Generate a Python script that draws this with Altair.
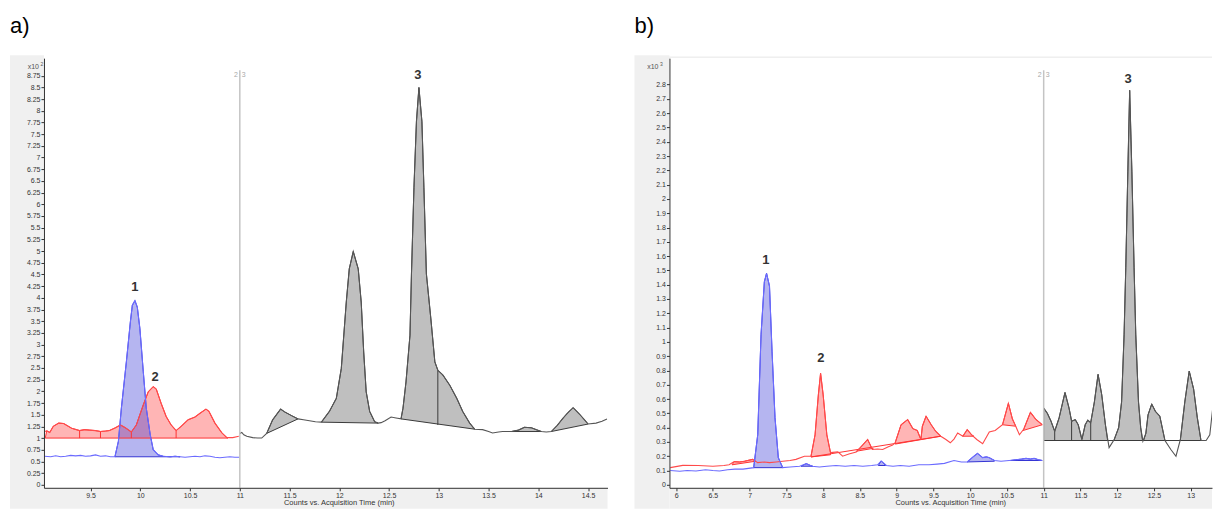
import altair as alt
import pandas as pd

H = 430
WA, WB = 564, 543
FONT = "Liberation Sans"

# ---------------- panel a (x10^2 counts) ----------------
a_blue_t = [9.04, 9.10, 9.15, 9.20, 9.25, 9.30, 9.35, 9.40, 9.45, 9.50,
            9.55, 9.60, 9.65, 9.70, 9.745, 9.78, 9.81, 9.86, 9.90, 9.92,
            9.946, 9.97, 9.996, 10.03, 10.06, 10.10, 10.13, 10.18, 10.23, 10.30,
            10.35, 10.40, 10.45, 10.50, 10.55, 10.60, 10.65, 10.70, 10.75, 10.80,
            10.85, 10.90, 10.95, 11.00]
a_blue_v = [0.61, 0.60, 0.62, 0.60, 0.61, 0.63, 0.62, 0.63, 0.61, 0.62,
            0.64, 0.61, 0.62, 0.60, 0.60, 0.93, 1.64, 2.63, 3.48, 3.84,
            3.94, 3.80, 3.34, 2.42, 1.64, 1.07, 0.75, 0.64, 0.61, 0.60,
            0.61, 0.60, 0.59, 0.60, 0.61, 0.60, 0.62, 0.61, 0.59, 0.58,
            0.59, 0.60, 0.59, 0.59]
a_red_t = [9.04, 9.06, 9.09, 9.125, 9.18, 9.23, 9.31, 9.39, 9.44, 9.49,
           9.55, 9.60, 9.65, 9.69, 9.75, 9.80, 9.85, 9.91, 9.96, 10.03,
           10.08, 10.13, 10.16, 10.21, 10.26, 10.31, 10.36, 10.41, 10.48, 10.55,
           10.60, 10.66, 10.69, 10.75, 10.82, 10.87, 10.93, 10.99]
a_red_v = [1.14, 1.155, 1.12, 1.25, 1.32, 1.31, 1.21, 1.16, 1.18, 1.17,
           1.16, 1.14, 1.15, 1.16, 1.22, 1.28, 1.22, 1.13, 1.28, 1.71,
           1.99, 2.10, 2.05, 1.74, 1.46, 1.28, 1.16, 1.25, 1.39, 1.45,
           1.53, 1.62, 1.57, 1.32, 1.11, 1.01, 1.01, 1.04]
a_gray_t = [11.00, 11.02, 11.04, 11.07, 11.13, 11.18, 11.22, 11.27, 11.33, 11.41,
            11.45, 11.52, 11.585, 11.64, 11.70, 11.76, 11.82, 11.90, 11.97, 12.02,
            12.07, 12.10, 12.14, 12.19, 12.22, 12.245, 12.27, 12.305, 12.355, 12.39,
            12.42, 12.46, 12.52, 12.57, 12.62, 12.64, 12.67, 12.71, 12.725, 12.75,
            12.775, 12.80, 12.83, 12.85, 12.875, 12.92, 12.96, 12.99, 13.04, 13.11,
            13.18, 13.24, 13.31, 13.36, 13.44, 13.50, 13.54, 13.60, 13.64, 13.73,
            13.80, 13.86, 13.93, 13.98, 14.03, 14.08, 14.13, 14.19, 14.25, 14.30,
            14.35, 14.41, 14.46, 14.50, 14.58, 14.64, 14.69]
a_gray_v = [1.10, 1.12, 1.07, 1.04, 1.01, 1.00, 1.00, 1.10, 1.39, 1.62,
            1.56, 1.48, 1.41, 1.39, 1.37, 1.35, 1.34, 1.57, 1.85, 2.49,
            3.91, 4.62, 4.99, 4.62, 3.91, 2.84, 1.99, 1.57, 1.35, 1.32,
            1.33, 1.37, 1.45, 1.43, 1.41, 1.64, 2.20, 3.20, 4.51, 6.36,
            7.77, 8.50, 7.77, 6.36, 4.51, 3.55, 2.63, 2.45, 2.35, 2.13,
            1.85, 1.57, 1.32, 1.19, 1.18, 1.14, 1.11, 1.13, 1.14, 1.14,
            1.17, 1.23, 1.22, 1.18, 1.14, 1.13, 1.14, 1.27, 1.43, 1.55,
            1.65, 1.52, 1.40, 1.30, 1.32, 1.36, 1.41]

# integrated peaks: series, start time, start baseline, end time, end baseline
a_fill_s = ["red", "blue", "gray", "gray", "gray", "gray", "gray"]
a_fill_t0 = [9.045, 9.745, 11.27, 11.82, 12.62, 13.73, 14.13]
a_fill_b0 = [1.00, 0.60, 1.10, 1.34, 1.41, 1.14, 1.14]
a_fill_t1 = [10.88, 10.40, 11.585, 12.39, 13.36, 14.03, 14.50]
a_fill_b1 = [1.00, 0.60, 1.41, 1.32, 1.19, 1.14, 1.30]

a_split_s = ["red", "red", "red", "red", "gray"]
a_split_t = [9.39, 9.60, 9.91, 10.36, 12.99]
a_split_top = [1.16, 1.14, 1.13, 1.16, 2.45]
a_split_base = [1.00, 1.00, 1.00, 1.00, 1.28]

a_lab_text = ["1", "2", "3"]
a_lab_t = [9.946, 10.15, 12.79]
a_lab_v = [4.23, 2.31, 8.77]

a_xticks = [9.5, 10, 10.5, 11, 11.5, 12, 12.5, 13, 13.5, 14, 14.5]
a_yticks = [0, 0.25, 0.5, 0.75, 1, 1.25, 1.5, 1.75, 2, 2.25, 2.5, 2.75, 3, 3.25,
            3.5, 3.75, 4, 4.25, 4.5, 4.75, 5, 5.25, 5.5, 5.75, 6, 6.25, 6.5,
            6.75, 7, 7.25, 7.5, 7.75, 8, 8.25, 8.5, 8.75]

# ---------------- panel b (x10^3 counts) ----------------
b_blue_t = [5.92, 6.05, 6.15, 6.27, 6.40, 6.50, 6.59, 6.70, 6.80, 6.91,
            7.055, 7.11, 7.155, 7.20, 7.23, 7.27, 7.305, 7.345, 7.39, 7.45,
            7.55, 7.68, 7.77, 7.85, 7.95, 8.05, 8.175, 8.30, 8.42, 8.54,
            8.66, 8.74, 8.79, 8.86, 8.95, 9.05, 9.17, 9.30, 9.44, 9.55,
            9.65, 9.78, 9.88, 9.96, 10.05, 10.10, 10.17, 10.22, 10.26, 10.33,
            10.42, 10.53, 10.62, 10.70, 10.76, 10.82, 10.87, 10.93, 10.98]
b_blue_v = [0.10, 0.095, 0.10, 0.097, 0.105, 0.10, 0.097, 0.105, 0.11, 0.11,
            0.12, 0.35, 1.05, 1.42, 1.48, 1.39, 0.93, 0.47, 0.19, 0.12,
            0.125, 0.13, 0.148, 0.13, 0.125, 0.13, 0.135, 0.13, 0.135, 0.13,
            0.135, 0.14, 0.167, 0.135, 0.13, 0.135, 0.13, 0.14, 0.14, 0.145,
            0.15, 0.17, 0.16, 0.16, 0.20, 0.22, 0.19, 0.195, 0.19, 0.17,
            0.165, 0.17, 0.175, 0.18, 0.185, 0.18, 0.185, 0.175, 0.17]
b_red_t = [5.92, 6.09, 6.30, 6.50, 6.65, 6.72, 6.79, 6.86, 6.93, 7.04,
           7.11, 7.20, 7.27, 7.36, 7.45, 7.55, 7.63, 7.745, 7.835, 7.89,
           7.935, 7.965, 8.00, 8.05, 8.10, 8.20, 8.265, 8.35, 8.45, 8.54,
           8.605, 8.67, 8.74, 8.81, 8.88, 8.945, 8.98, 9.06, 9.15, 9.22,
           9.28, 9.33, 9.35, 9.40, 9.47, 9.53, 9.60, 9.67, 9.73, 9.78,
           9.83, 9.90, 9.96, 10.02, 10.09, 10.17, 10.26, 10.34, 10.44, 10.52,
           10.575, 10.62, 10.67, 10.73, 10.82, 10.89, 10.98]
b_red_v = [0.12, 0.136, 0.135, 0.13, 0.135, 0.14, 0.162, 0.16, 0.165, 0.178,
           0.155, 0.16, 0.155, 0.16, 0.165, 0.17, 0.178, 0.20, 0.20, 0.35,
           0.63, 0.78, 0.63, 0.35, 0.225, 0.23, 0.20, 0.215, 0.23, 0.28,
           0.317, 0.247, 0.25, 0.247, 0.265, 0.278, 0.294, 0.42, 0.456, 0.393,
           0.38, 0.317, 0.41, 0.48, 0.42, 0.375, 0.34, 0.317, 0.294, 0.32,
           0.363, 0.34, 0.386, 0.35, 0.317, 0.287, 0.37, 0.38, 0.42, 0.57,
           0.46, 0.41, 0.35, 0.39, 0.507, 0.46, 0.42]
b_gray_t = [11.00, 11.05, 11.10, 11.15, 11.21, 11.29, 11.345, 11.38, 11.43, 11.47,
            11.52, 11.565, 11.60, 11.64, 11.69, 11.74, 11.79, 11.84, 11.89, 11.96,
            12.02, 12.06, 12.094, 12.117, 12.145, 12.17, 12.20, 12.23, 12.253, 12.29,
            12.32, 12.35, 12.39, 12.42, 12.47, 12.52, 12.58, 12.65, 12.73, 12.80,
            12.86, 12.92, 12.98, 13.04, 13.09, 13.14, 13.21, 13.26, 13.32, 13.36,
            13.40]
b_gray_v = [0.537, 0.50, 0.445, 0.375, 0.468, 0.646, 0.537, 0.445, 0.456, 0.42,
            0.317, 0.42, 0.452, 0.435, 0.58, 0.773, 0.63, 0.42, 0.26, 0.317,
            0.40, 0.58, 1.05, 1.52, 2.19, 2.76, 2.19, 1.52, 1.05, 0.58,
            0.40, 0.305, 0.36, 0.49, 0.565, 0.514, 0.48, 0.31, 0.247, 0.20,
            0.317, 0.58, 0.796, 0.67, 0.47, 0.31, 0.31, 0.35, 0.63, 0.78,
            0.83]

b_fill_s = ["blue", "blue", "blue", "blue", "blue",
            "red", "red", "red", "red", "red", "red", "red",
            "gray", "gray", "gray", "gray"]
b_fill_t0 = [7.055, 7.70, 8.75, 9.96, 10.55,
             6.76, 7.835, 8.45, 8.98, 9.90, 10.44, 10.72,
             11.00, 11.95, 12.36, 12.85]
b_fill_b0 = [0.12, 0.13, 0.135, 0.16, 0.17,
             0.14, 0.195, 0.235, 0.285, 0.34, 0.42, 0.38,
             0.31, 0.31, 0.31, 0.31]
b_fill_t1 = [7.45, 7.86, 8.85, 10.33, 10.98,
             7.08, 8.10, 8.68, 9.60, 10.05, 10.62, 10.98,
             11.87, 12.345, 12.65, 13.14]
b_fill_b1 = [0.12, 0.13, 0.135, 0.165, 0.17,
             0.165, 0.21, 0.255, 0.34, 0.34, 0.41, 0.42,
             0.31, 0.31, 0.31, 0.31]

b_split_s = ["gray", "gray", "gray"]
b_split_t = [11.15, 11.38, 11.64]
b_split_top = [0.375, 0.445, 0.435]
b_split_base = [0.31, 0.31, 0.31]

# long common baselines
b_long_s = ["red", "gray"]
b_long_t0 = [7.835, 11.00]
b_long_b0 = [0.195, 0.31]
b_long_t1 = [9.60, 13.14]
b_long_b1 = [0.34, 0.31]

b_lab_text = ["1", "2", "3"]
b_lab_t = [7.22, 7.97, 12.15]
b_lab_v = [1.57, 0.885, 2.84]

b_xticks = [6, 6.5, 7, 7.5, 8, 8.5, 9, 9.5, 10, 10.5, 11, 11.5, 12, 12.5, 13]
b_yticks = [0, 0.1, 0.2, 0.3, 0.4, 0.5, 0.6, 0.7, 0.8, 0.9, 1, 1.1, 1.2, 1.3,
            1.4, 1.5, 1.6, 1.7, 1.8, 1.9, 2, 2.1, 2.2, 2.3, 2.4, 2.5, 2.6, 2.7, 2.8]

TRACE_COL = {"red": "#ff4a4a", "blue": "#6b6bff", "gray": "#555555"}
EDGE_COL = {"red": "#ff3333", "blue": "#3434d4", "gray": "#3a3a3a"}
FILL_COL = {"red": "#ff2a2a", "blue": "#2a2ad4", "gray": "#808080"}
FILL_OP = {"red": 0.35, "blue": 0.35, "gray": 0.5}


def polygons(traces, s_list, t0, b0, t1, b1):
    rows = []
    for g, (s, ts, bs, te, be) in enumerate(zip(s_list, t0, b0, t1, b1)):
        tt, vv = traces[s]
        pts = [(ts, bs)] + [(t, v) for t, v in zip(tt, vv) if ts <= t <= te] + [(te, be)]
        for i, (t, v) in enumerate(pts):
            rows.append({"t": t, "v": v, "g": g, "s": s, "i": i})
    return pd.DataFrame(rows)


def panel(traces, fills, splits, longs, labels, xdom, ydom, xticks, yticks,
          width, tag, expo, title_x, tag_dx, top_line):
    one = pd.DataFrame({"k": [0]})
    xaxis = alt.Axis(values=xticks, format=".4~g", title="Counts vs. Acquisition Time (min)",
                     titleX=title_x, titleFontSize=7.5, titleFontWeight="normal",
                     titlePadding=0, titleColor="#333", labelFontSize=7, labelColor="#333",
                     labelPadding=1, tickSize=3, tickColor="#333", domainColor="#333",
                     grid=False, zindex=1, labelFont=FONT, titleFont=FONT)
    yaxis = alt.Axis(values=yticks, format=".4~g", title=None, labelFontSize=7,
                     labelColor="#333", labelPadding=1, tickSize=3, tickColor="#333",
                     domainColor="#333", grid=False, zindex=1, labelFont=FONT)
    X = alt.X("t:Q", scale=alt.Scale(domain=xdom, nice=False, zero=False), axis=xaxis)
    Y = alt.Y("v:Q", scale=alt.Scale(domain=ydom, nice=False, zero=False), axis=yaxis)

    layers = []
    # grey frame (left and bottom bands)
    layers.append(alt.Chart(one).mark_rect(color="#f0f0f0").encode(
        x=alt.value(tag_dx), x2=alt.value(0), y=alt.value(-3), y2=alt.value(H + 21)))
    layers.append(alt.Chart(one).mark_rect(color="#f0f0f0").encode(
        x=alt.value(0), x2=alt.value(width), y=alt.value(H), y2=alt.value(H + 21)))
    if top_line:
        layers.append(alt.Chart(one).mark_rule(color="#e6e6e6").encode(
            x=alt.value(0), x2=alt.value(width), y=alt.value(-1)))
    # invisible anchor for the top margin
    layers.append(alt.Chart(one).mark_rect(opacity=0).encode(
        x=alt.value(0), x2=alt.value(1), y=alt.value(-50), y2=alt.value(-49)))

    fdf = polygons(traces, *fills)
    for s in ["red", "blue", "gray"]:
        sub = fdf[fdf.s == s]
        if len(sub):
            layers.append(alt.Chart(sub).mark_line(
                fill=FILL_COL[s], fillOpacity=FILL_OP[s], stroke=EDGE_COL[s],
                strokeWidth=1, clip=True).encode(
                x=X, y=Y, detail="g:N", order="i:Q"))

    # baselines of integrated peaks
    bs, bt0, bb0, bt1, bb1 = fills
    ls, lt0, lb0, lt1, lb1 = longs
    base = pd.DataFrame({"s": list(bs) + list(ls), "t": list(bt0) + list(lt0),
                         "v": list(bb0) + list(lb0), "t2": list(bt1) + list(lt1),
                         "v2": list(bb1) + list(lb1)})
    sp_s, sp_t, sp_top, sp_base = splits
    spl = pd.DataFrame({"s": sp_s, "t": sp_t, "v": sp_top, "v2": sp_base})
    for s in ["red", "blue", "gray"]:
        sb = base[base.s == s]
        if len(sb):
            layers.append(alt.Chart(sb).mark_rule(color=EDGE_COL[s], strokeWidth=1, clip=True)
                          .encode(x=X, y=Y, x2="t2:Q", y2="v2:Q"))
        ss = spl[spl.s == s]
        if len(ss):
            layers.append(alt.Chart(ss).mark_rule(color=EDGE_COL[s], strokeWidth=1, clip=True)
                          .encode(x=X, y=Y, y2="v2:Q"))

    # traces
    for s in ["red", "blue", "gray"]:
        tt, vv = traces[s]
        layers.append(alt.Chart(pd.DataFrame({"t": tt, "v": vv})).mark_line(
            color=TRACE_COL[s], strokeWidth=1.1, clip=True).encode(x=X, y=Y))

    # segment separator at 11 min
    sep = pd.DataFrame({"t": [11.0]})
    layers.append(alt.Chart(sep).mark_rule(color="#c4c4c4", strokeWidth=1.5).encode(
        x=X, y=alt.value(12), y2=alt.value(H)))
    layers.append(alt.Chart(sep).mark_text(text="2", align="right", dx=-2, fontSize=7,
                                           color="#a8a8a8", font=FONT, baseline="middle")
                  .encode(x=X, y=alt.value(17)))
    layers.append(alt.Chart(sep).mark_text(text="3", align="left", dx=2, fontSize=7,
                                           color="#a8a8a8", font=FONT, baseline="middle")
                  .encode(x=X, y=alt.value(17)))

    # peak numbers
    lt, ltt, lv = labels
    layers.append(alt.Chart(pd.DataFrame({"text": lt, "t": ltt, "v": lv})).mark_text(
        fontSize=13, fontWeight="bold", color="#333", font=FONT, baseline="middle")
        .encode(x=X, y=Y, text="text:N"))

    # exponent label and panel tag
    layers.append(alt.Chart(one).mark_text(text="x10", fontSize=7, color="#555", font=FONT,
                                           align="right", baseline="middle")
                  .encode(x=alt.value(expo), y=alt.value(9)))
    layers.append(alt.Chart(one).mark_text(text=tag[1], fontSize=5, color="#555", font=FONT,
                                           align="left", baseline="middle")
                  .encode(x=alt.value(expo + 1.5), y=alt.value(6)))
    layers.append(alt.Chart(one).mark_text(text=tag[0], fontSize=22, color="black", font=FONT,
                                           align="left", baseline="alphabetic")
                  .encode(x=alt.value(tag_dx), y=alt.value(-25)))

    return alt.layer(*layers).properties(width=width, height=H)


pa = panel({"red": (a_red_t, a_red_v), "blue": (a_blue_t, a_blue_v), "gray": (a_gray_t, a_gray_v)},
           (a_fill_s, a_fill_t0, a_fill_b0, a_fill_t1, a_fill_b1),
           (a_split_s, a_split_t, a_split_top, a_split_base),
           ([], [], [], [], []),
           (a_lab_text, a_lab_t, a_lab_v),
           [9.032, 14.695], [-0.064, 9.126], a_xticks, a_yticks, WA,
           ("a)", "2"), -5, 295, -34, False)

pb = panel({"red": (b_red_t, b_red_v), "blue": (b_blue_t, b_blue_v), "gray": (b_gray_t, b_gray_v)},
           (b_fill_s, b_fill_t0, b_fill_b0, b_fill_t1, b_fill_b1),
           (b_split_s, b_split_t, b_split_top, b_split_base),
           (b_long_s, b_long_t0, b_long_b0, b_long_t1, b_long_b1),
           (b_lab_text, b_lab_t, b_lab_v),
           [5.909, 13.29], [-0.021, 2.985], b_xticks, b_yticks, WB,
           ("b)", "3"), -11, 281, -35, True)

chart = alt.hconcat(pa, pb, spacing=27).properties(
    padding={"left": 2, "top": 0, "right": 0, "bottom": 0}
).configure_view(stroke=None)

chart.save("out.html", embed_options={"renderer": "svg", "actions": False})
